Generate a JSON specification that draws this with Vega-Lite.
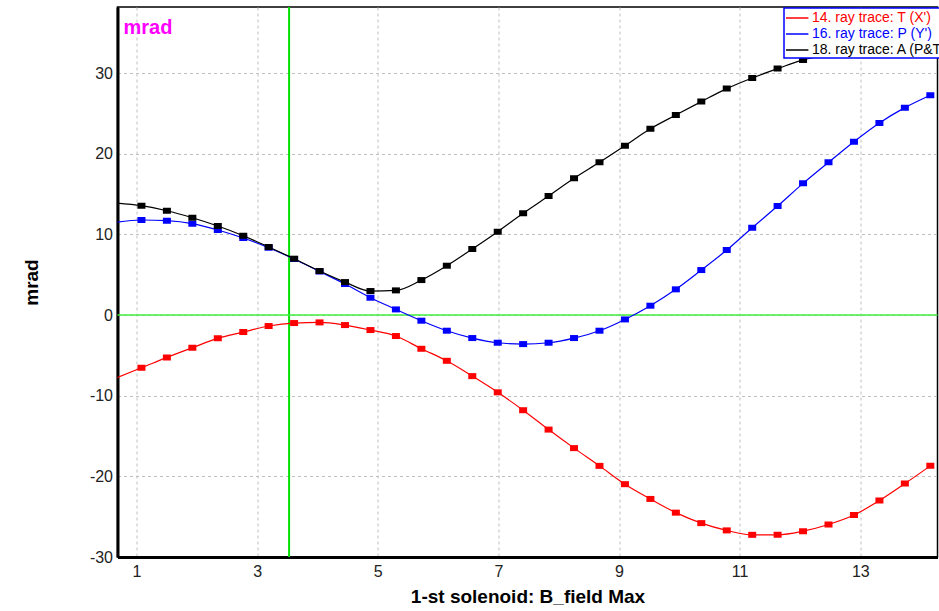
{
  "$schema": "https://vega.github.io/schema/vega-lite/v6.json",
  "width": 820,
  "height": 550,
  "autosize": {"type": "none"},
  "padding": {"left": 117.5, "top": 7, "right": 1.5, "bottom": 54},
  "background": "white",
  "title": {
    "text": "mrad",
    "anchor": "start",
    "frame": "group",
    "orient": "top",
    "offset": 0,
    "baseline": "alphabetic",
    "dx": 6,
    "dy": 48,
    "fontSize": 20,
    "font": "Liberation Sans",
    "fontWeight": "bold",
    "color": "#ff00ff"
  },
  "config": {
    "view": {"stroke": "black", "strokeWidth": 1.5},
    "axis": {
      "labelFont": "Liberation Sans",
      "titleFont": "Liberation Sans",
      "labelFontSize": 16,
      "labelColor": "#222222",
      "titleFontSize": 19,
      "titleFontWeight": "bold",
      "titleColor": "black",
      "domainColor": "black",
      "domainWidth": 3,
      "ticks": false,
      "gridColor": "#c0c0c0",
      "gridDash": [3, 3],
      "gridWidth": 1,
      "zindex": 1,
      "labelExpr": "datum.value < 0 ? '-' + abs(datum.value) : '' + datum.value"
    }
  },
  "datasets": {
    "traces": [
      {"x": 0.660, "y": -7.80, "series": "14. ray trace: T (X')"},
      {"x": 1.082, "y": -6.54, "series": "14. ray trace: T (X')"},
      {"x": 1.504, "y": -5.25, "series": "14. ray trace: T (X')"},
      {"x": 1.926, "y": -4.05, "series": "14. ray trace: T (X')"},
      {"x": 2.348, "y": -2.89, "series": "14. ray trace: T (X')"},
      {"x": 2.770, "y": -2.11, "series": "14. ray trace: T (X')"},
      {"x": 3.191, "y": -1.36, "series": "14. ray trace: T (X')"},
      {"x": 3.613, "y": -0.99, "series": "14. ray trace: T (X')"},
      {"x": 4.035, "y": -0.91, "series": "14. ray trace: T (X')"},
      {"x": 4.457, "y": -1.24, "series": "14. ray trace: T (X')"},
      {"x": 4.879, "y": -1.86, "series": "14. ray trace: T (X')"},
      {"x": 5.301, "y": -2.60, "series": "14. ray trace: T (X')"},
      {"x": 5.723, "y": -4.18, "series": "14. ray trace: T (X')"},
      {"x": 6.145, "y": -5.67, "series": "14. ray trace: T (X')"},
      {"x": 6.567, "y": -7.57, "series": "14. ray trace: T (X')"},
      {"x": 6.989, "y": -9.58, "series": "14. ray trace: T (X')"},
      {"x": 7.410, "y": -11.80, "series": "14. ray trace: T (X')"},
      {"x": 7.832, "y": -14.20, "series": "14. ray trace: T (X')"},
      {"x": 8.254, "y": -16.50, "series": "14. ray trace: T (X')"},
      {"x": 8.676, "y": -18.70, "series": "14. ray trace: T (X')"},
      {"x": 9.098, "y": -20.97, "series": "14. ray trace: T (X')"},
      {"x": 9.520, "y": -22.80, "series": "14. ray trace: T (X')"},
      {"x": 9.942, "y": -24.50, "series": "14. ray trace: T (X')"},
      {"x": 10.364, "y": -25.80, "series": "14. ray trace: T (X')"},
      {"x": 10.786, "y": -26.70, "series": "14. ray trace: T (X')"},
      {"x": 11.208, "y": -27.25, "series": "14. ray trace: T (X')"},
      {"x": 11.629, "y": -27.25, "series": "14. ray trace: T (X')"},
      {"x": 12.051, "y": -26.80, "series": "14. ray trace: T (X')"},
      {"x": 12.473, "y": -25.97, "series": "14. ray trace: T (X')"},
      {"x": 12.895, "y": -24.80, "series": "14. ray trace: T (X')"},
      {"x": 13.317, "y": -23.00, "series": "14. ray trace: T (X')"},
      {"x": 13.739, "y": -20.90, "series": "14. ray trace: T (X')"},
      {"x": 14.161, "y": -18.70, "series": "14. ray trace: T (X')"},

      {"x": 0.660, "y": 11.52, "series": "16. ray trace: P (Y')"},
      {"x": 1.082, "y": 11.79, "series": "16. ray trace: P (Y')"},
      {"x": 1.504, "y": 11.70, "series": "16. ray trace: P (Y')"},
      {"x": 1.926, "y": 11.33, "series": "16. ray trace: P (Y')"},
      {"x": 2.348, "y": 10.55, "series": "16. ray trace: P (Y')"},
      {"x": 2.770, "y": 9.55, "series": "16. ray trace: P (Y')"},
      {"x": 3.191, "y": 8.35, "series": "16. ray trace: P (Y')"},
      {"x": 3.613, "y": 6.95, "series": "16. ray trace: P (Y')"},
      {"x": 4.035, "y": 5.40, "series": "16. ray trace: P (Y')"},
      {"x": 4.457, "y": 3.85, "series": "16. ray trace: P (Y')"},
      {"x": 4.879, "y": 2.15, "series": "16. ray trace: P (Y')"},
      {"x": 5.301, "y": 0.70, "series": "16. ray trace: P (Y')"},
      {"x": 5.723, "y": -0.70, "series": "16. ray trace: P (Y')"},
      {"x": 6.145, "y": -1.94, "series": "16. ray trace: P (Y')"},
      {"x": 6.567, "y": -2.85, "series": "16. ray trace: P (Y')"},
      {"x": 6.989, "y": -3.43, "series": "16. ray trace: P (Y')"},
      {"x": 7.410, "y": -3.60, "series": "16. ray trace: P (Y')"},
      {"x": 7.832, "y": -3.43, "series": "16. ray trace: P (Y')"},
      {"x": 8.254, "y": -2.85, "series": "16. ray trace: P (Y')"},
      {"x": 8.676, "y": -1.94, "series": "16. ray trace: P (Y')"},
      {"x": 9.098, "y": -0.54, "series": "16. ray trace: P (Y')"},
      {"x": 9.520, "y": 1.16, "series": "16. ray trace: P (Y')"},
      {"x": 9.942, "y": 3.19, "series": "16. ray trace: P (Y')"},
      {"x": 10.364, "y": 5.58, "series": "16. ray trace: P (Y')"},
      {"x": 10.786, "y": 8.06, "series": "16. ray trace: P (Y')"},
      {"x": 11.208, "y": 10.83, "series": "16. ray trace: P (Y')"},
      {"x": 11.629, "y": 13.52, "series": "16. ray trace: P (Y')"},
      {"x": 12.051, "y": 16.33, "series": "16. ray trace: P (Y')"},
      {"x": 12.473, "y": 18.94, "series": "16. ray trace: P (Y')"},
      {"x": 12.895, "y": 21.50, "series": "16. ray trace: P (Y')"},
      {"x": 13.317, "y": 23.82, "series": "16. ray trace: P (Y')"},
      {"x": 13.739, "y": 25.72, "series": "16. ray trace: P (Y')"},
      {"x": 14.161, "y": 27.26, "series": "16. ray trace: P (Y')"},

      {"x": 0.660, "y": 13.88, "series": "18. ray trace: A (P&T)"},
      {"x": 1.082, "y": 13.56, "series": "18. ray trace: A (P&T)"},
      {"x": 1.504, "y": 12.94, "series": "18. ray trace: A (P&T)"},
      {"x": 1.926, "y": 12.07, "series": "18. ray trace: A (P&T)"},
      {"x": 2.348, "y": 11.04, "series": "18. ray trace: A (P&T)"},
      {"x": 2.770, "y": 9.84, "series": "18. ray trace: A (P&T)"},
      {"x": 3.191, "y": 8.44, "series": "18. ray trace: A (P&T)"},
      {"x": 3.613, "y": 6.99, "series": "18. ray trace: A (P&T)"},
      {"x": 4.035, "y": 5.46, "series": "18. ray trace: A (P&T)"},
      {"x": 4.457, "y": 4.09, "series": "18. ray trace: A (P&T)"},
      {"x": 4.879, "y": 2.98, "series": "18. ray trace: A (P&T)"},
      {"x": 5.301, "y": 3.06, "series": "18. ray trace: A (P&T)"},
      {"x": 5.723, "y": 4.34, "series": "18. ray trace: A (P&T)"},
      {"x": 6.145, "y": 6.12, "series": "18. ray trace: A (P&T)"},
      {"x": 6.567, "y": 8.19, "series": "18. ray trace: A (P&T)"},
      {"x": 6.989, "y": 10.34, "series": "18. ray trace: A (P&T)"},
      {"x": 7.410, "y": 12.62, "series": "18. ray trace: A (P&T)"},
      {"x": 7.832, "y": 14.76, "series": "18. ray trace: A (P&T)"},
      {"x": 8.254, "y": 16.96, "series": "18. ray trace: A (P&T)"},
      {"x": 8.676, "y": 18.94, "series": "18. ray trace: A (P&T)"},
      {"x": 9.098, "y": 21.00, "series": "18. ray trace: A (P&T)"},
      {"x": 9.520, "y": 23.10, "series": "18. ray trace: A (P&T)"},
      {"x": 9.942, "y": 24.80, "series": "18. ray trace: A (P&T)"},
      {"x": 10.364, "y": 26.47, "series": "18. ray trace: A (P&T)"},
      {"x": 10.786, "y": 28.08, "series": "18. ray trace: A (P&T)"},
      {"x": 11.208, "y": 29.40, "series": "18. ray trace: A (P&T)"},
      {"x": 11.629, "y": 30.56, "series": "18. ray trace: A (P&T)"},
      {"x": 12.051, "y": 31.64, "series": "18. ray trace: A (P&T)"},
      {"x": 12.473, "y": 32.25, "series": "18. ray trace: A (P&T)"},
      {"x": 12.895, "y": 32.75, "series": "18. ray trace: A (P&T)"},
      {"x": 13.317, "y": 33.15, "series": "18. ray trace: A (P&T)"},
      {"x": 13.739, "y": 33.40, "series": "18. ray trace: A (P&T)"},
      {"x": 14.161, "y": 33.55, "series": "18. ray trace: A (P&T)"}
    ],
    "vrule": [{"x": 3.53}],
    "hrule": [{"y": 0}]
  },
  "layer": [
    {
      "data": {"name": "vrule"},
      "mark": {"type": "rule", "color": "#00e000", "strokeWidth": 2},
      "encoding": {
        "x": {"field": "x", "type": "quantitative", "scale": {"domain": [0.685, 14.28], "nice": false, "zero": false}}
      }
    },
    {
      "data": {"name": "hrule"},
      "mark": {"type": "rule", "color": "#40f040", "strokeWidth": 1.5},
      "encoding": {
        "y": {"field": "y", "type": "quantitative"}
      }
    },
    {
      "data": {"name": "traces"},
      "mark": {"type": "line", "interpolate": "monotone", "strokeWidth": 1.2, "clip": true},
      "encoding": {
        "x": {
          "field": "x", "type": "quantitative",
          "scale": {"domain": [0.685, 14.28], "nice": false, "zero": false},
          "axis": {"values": [1, 3, 5, 7, 9, 11, 13], "title": "1-st solenoid: B_field Max", "labelPadding": 6, "titlePadding": 8}
        },
        "y": {
          "field": "y", "type": "quantitative",
          "scale": {"domain": [-30, 38.2], "nice": false, "zero": false},
          "axis": {"values": [-30, -20, -10, 0, 10, 20, 30], "title": "mrad", "labelPadding": 5, "titlePadding": 48}
        },
        "color": {
          "field": "series", "type": "nominal",
          "scale": {"domain": ["14. ray trace: T (X')", "16. ray trace: P (Y')", "18. ray trace: A (P&T)"], "range": ["#ff0000", "#0000ff", "#000000"]},
          "legend": {
            "title": null,
            "orient": "none",
            "legendX": 666.5,
            "legendY": 1,
            "padding": 1,
            "strokeColor": "#0000ff",
            "fillColor": "white",
            "symbolType": "M -1 0 L 1.8 0",
            "symbolSize": 256,
            "symbolStrokeWidth": 1.5,
            "labelFont": "Liberation Sans",
            "labelFontSize": 14,
            "labelLimit": 400,
            "labelOffset": 9,
            "rowPadding": 0,
            "encode": {
              "labels": {"update": {"fill": {"scale": "color", "field": "value"}}},
              "legend": {"update": {"strokeWidth": {"value": 1.5}}}
            }
          }
        }
      }
    },
    {
      "data": {"name": "traces"},
      "transform": [{"filter": "datum.x > 0.7"}],
      "mark": {"type": "point", "shape": "M -1 -0.75 L 1 -0.75 L 1 0.75 L -1 0.75 Z", "filled": true, "opacity": 1, "size": 64, "clip": true},
      "encoding": {
        "x": {"field": "x", "type": "quantitative"},
        "y": {"field": "y", "type": "quantitative"},
        "color": {"field": "series", "type": "nominal", "legend": null}
      }
    }
  ]
}
